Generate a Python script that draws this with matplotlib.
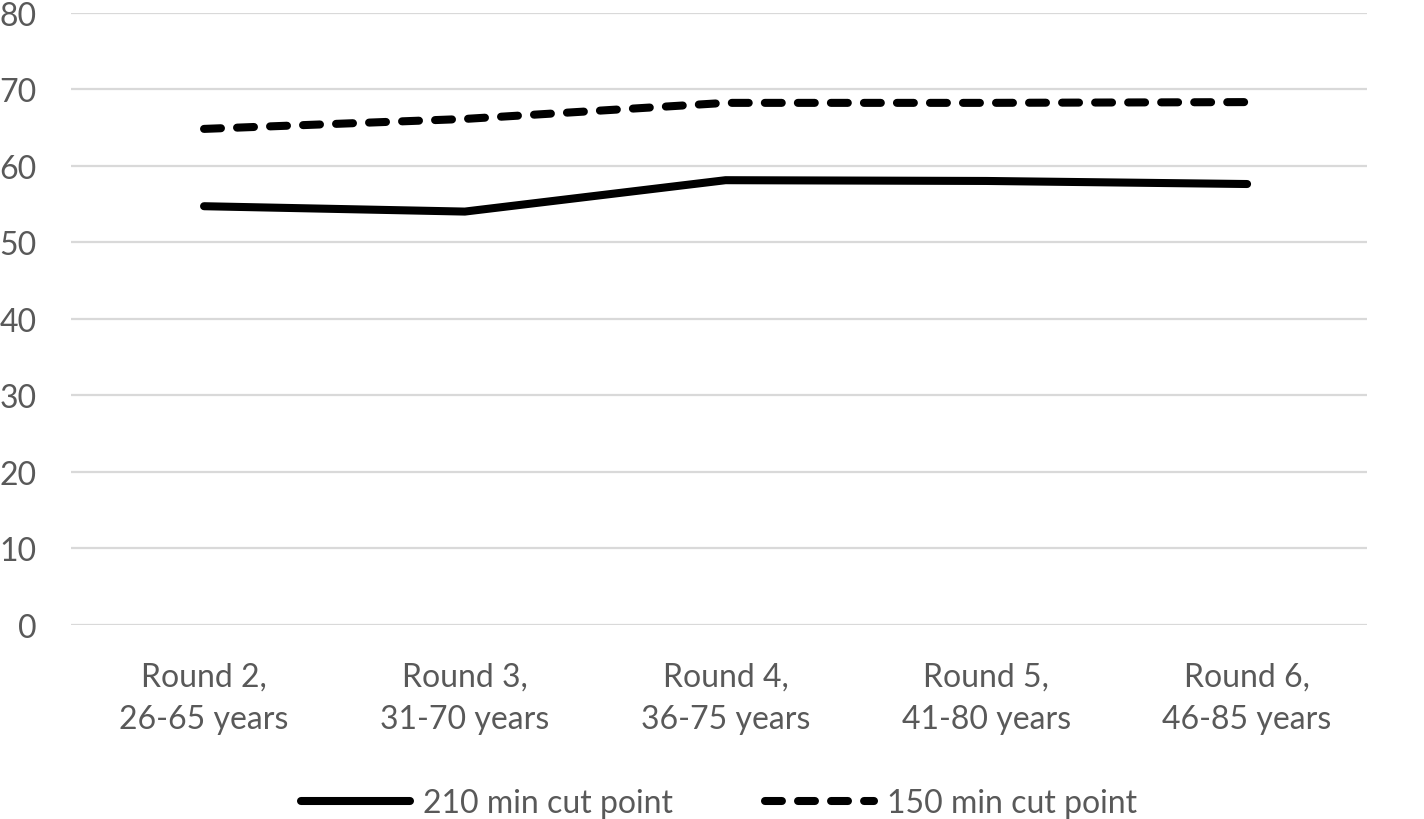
import matplotlib.pyplot as plt
import numpy as np

rounds = ["Round 2,\n26-65 years", "Round 3,\n31-70 years", "Round 4,\n36-75 years",
          "Round 5,\n41-80 years", "Round 6,\n46-85 years"]
cut_210 = [54.7, 54.0, 58.1, 58.0, 57.6]
cut_150 = [64.8, 66.1, 68.2, 68.2, 68.3]

plt.rcParams['font.family'] = ['Lato', 'DejaVu Sans']
grey = '#595959'
fs = 23

fig = plt.figure(figsize=(14.24, 8.2), dpi=100)
ax = fig.add_axes([0.0499, 0.2366, 0.9101, 0.7469])

x = np.arange(len(rounds))
ax.plot(x, cut_210, color='black', lw=5.8, solid_capstyle='round',
        label='210 min cut point')
ax.plot(x, cut_150, color='black', lw=5.8, dashes=(2.1, 2.0),
        dash_capstyle='round', label='150 min cut point')

ax.set_xlim(-0.51, 4.46)
ax.set_ylim(0, 80)
ax.set_yticks(range(0, 81, 10))
ax.set_xticks(x)
ax.set_xticklabels(rounds, linespacing=1.55)

ax.grid(axis='y', color='#d9d9d9', lw=1.6)
ax.set_axisbelow(True)
for s in ax.spines.values():
    s.set_visible(False)
ax.tick_params(axis='y', length=0, pad=25, labelsize=fs, labelcolor=grey)
ax.tick_params(axis='x', length=0, pad=26, labelsize=fs, labelcolor=grey)

fig.legend(loc='center', bbox_to_anchor=(0.505, 1 - 804 / 820), ncol=2,
           frameon=False, fontsize=fs, labelcolor=grey, handlelength=3.4,
           handletextpad=0.4, columnspacing=2.9)

fig.savefig('out.png', dpi=100)
